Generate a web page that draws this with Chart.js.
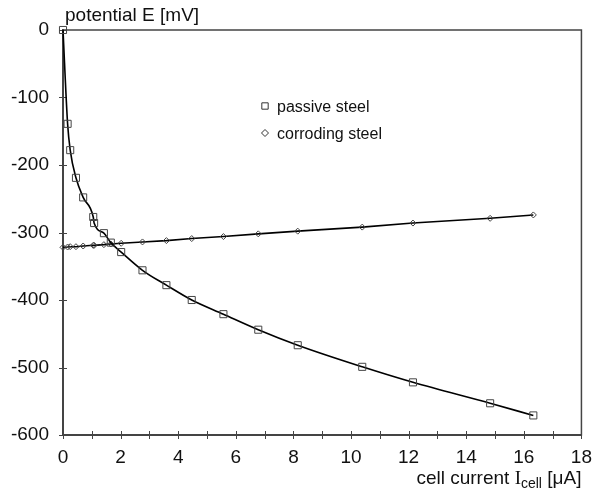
<!DOCTYPE html>
<html>
<head>
<meta charset="utf-8">
<script src="https://cdn.jsdelivr.net/npm/chart.js@4"></script>
<style>
  html, body { margin: 0; padding: 0; background: #fff; }
</style>
</head>
<body>
<canvas id="potChart" width="595" height="496"></canvas>
<script>
// cell current [µA] (same for both series)
const current = [0, 0.16, 0.25, 0.45, 0.70, 1.05, 1.08, 1.42, 1.66, 2.02, 2.76, 3.59, 4.47, 5.57, 6.78, 8.15, 10.39, 12.15, 14.83, 16.33];
// potential E [mV]
const passive = [0, -139, -178, -219, -248, -277, -286, -301, -315, -329, -356, -378, -400, -421, -444, -467, -499, -522, -553, -571];
const corroding = [-322, -321.5, -321, -321, -320, -319, -319, -318, -317, -316, -314, -312, -309, -306, -302, -298, -292, -286, -279, -274];
const seriesNames = ['passive steel', 'corroding steel'];

const axisColor = '#444';
const textColor = '#111';
const sans = '"Liberation Sans", Arial, sans-serif';

Chart.defaults.font.family = sans;
Chart.defaults.font.size = 19;
Chart.defaults.color = textColor;

function toPoints(ys) {
  return current.map((x, i) => ({ x: x, y: ys[i] }));
}

// cadre, petits traits de graduation, titres et légende
const decor = {
  id: 'decor',
  beforeDatasetsDraw(chart) {
    const { ctx, chartArea: a, scales } = chart;
    ctx.save();
    ctx.strokeStyle = axisColor;
    ctx.lineWidth = 1.5;
    ctx.strokeRect(a.left, a.top, a.right - a.left, a.bottom - a.top);
    ctx.lineWidth = 1;
    ctx.beginPath();
    scales.x.ticks.forEach(t => {
      const px = Math.round(scales.x.getPixelForValue(t.value)) + 0.5;
      ctx.moveTo(px, a.bottom - 4);
      ctx.lineTo(px, a.bottom + 4);
    });
    scales.y.ticks.forEach(t => {
      const py = Math.round(scales.y.getPixelForValue(t.value)) + 0.5;
      ctx.moveTo(a.left - 4, py);
      ctx.lineTo(a.left + 4, py);
    });
    ctx.stroke();
    ctx.restore();
  },
  afterDraw(chart) {
    const { ctx, chartArea: a } = chart;
    ctx.save();
    ctx.fillStyle = textColor;
    ctx.textBaseline = 'alphabetic';

    // titre axe y
    ctx.font = '19px ' + sans;
    ctx.textAlign = 'left';
    ctx.fillText('potential E [mV]', a.left + 2, 21);

    // titre axe x avec indice
    const y0 = 484;
    const partA = 'cell current ';
    const partI = 'I';
    const partSub = 'cell';
    const partB = ' [\u03BCA]';
    ctx.font = '19px ' + sans;
    const wA = ctx.measureText(partA).width;
    const wB = ctx.measureText(partB).width;
    ctx.font = '19px "Liberation Serif", serif';
    const wI = ctx.measureText(partI).width;
    ctx.font = '14px ' + sans;
    const wS = ctx.measureText(partSub).width;
    let x = a.right - (wA + wI + wS + wB);
    ctx.font = '19px ' + sans;
    ctx.fillText(partA, x, y0); x += wA;
    ctx.font = '19px "Liberation Serif", serif';
    ctx.fillText(partI, x, y0); x += wI;
    ctx.font = '14px ' + sans;
    ctx.fillText(partSub, x, y0 + 4); x += wS;
    ctx.font = '19px ' + sans;
    ctx.fillText(partB, x, y0);

    // légende
    ctx.font = '16px ' + sans;
    chart.data.datasets.forEach((ds, i) => {
      const ly = 106 + i * 27;
      ctx.strokeStyle = '#333';
      ctx.fillStyle = '#fff';
      ctx.lineWidth = 1;
      Chart.helpers.drawPoint(ctx, { pointStyle: ds.pointStyle, radius: ds.pointStyle === 'rect' ? 4.5 : 3.5, rotation: 0, borderWidth: 1 }, 265, ly);
      ctx.fillStyle = textColor;
      ctx.fillText(ds.label, 277, ly + 6);
    });
    ctx.restore();
  }
};

new Chart(document.getElementById('potChart'), {
  type: 'scatter',
  data: {
    datasets: [
      {
        label: seriesNames[0],
        data: toPoints(passive),
        showLine: true,
        cubicInterpolationMode: 'monotone',
        borderColor: '#000',
        borderWidth: 1.6,
        pointStyle: 'rect',
        pointRadius: 5,
        pointBorderColor: '#444',
        pointBorderWidth: 1,
        pointBackgroundColor: 'rgba(0,0,0,0)',
        clip: false
      },
      {
        label: seriesNames[1],
        data: toPoints(corroding),
        showLine: true,
        borderColor: '#000',
        borderWidth: 1.6,
        pointStyle: 'rectRot',
        pointRadius: 3,
        pointBorderColor: '#444',
        pointBorderWidth: 1,
        pointBackgroundColor: 'rgba(0,0,0,0)',
        clip: false
      }
    ]
  },
  options: {
    responsive: false,
    animation: false,
    devicePixelRatio: 1,
    layout: { padding: { left: 0, right: 0, top: 30, bottom: 0 } },
    plugins: {
      legend: { display: false },
      tooltip: { enabled: false }
    },
    scales: {
      x: {
        type: 'linear',
        min: 0,
        max: 18,
        grid: { display: false },
        border: { display: true, color: axisColor, width: 2 },
        ticks: {
          stepSize: 1,
          autoSkip: false,
          maxRotation: 0,
          padding: 3,
          callback: v => (v % 2 === 0 ? v : '')
        },
        afterFit: scale => { scale.height = 496 - 435; }
      },
      y: {
        type: 'linear',
        min: -600,
        max: 0,
        grid: { display: false },
        border: { display: true, color: axisColor, width: 2 },
        ticks: { stepSize: 100, padding: 6 },
        afterFit: scale => { scale.width = 63; }
      }
    }
  },
  plugins: [decor]
});
</script>
</body>
</html>
